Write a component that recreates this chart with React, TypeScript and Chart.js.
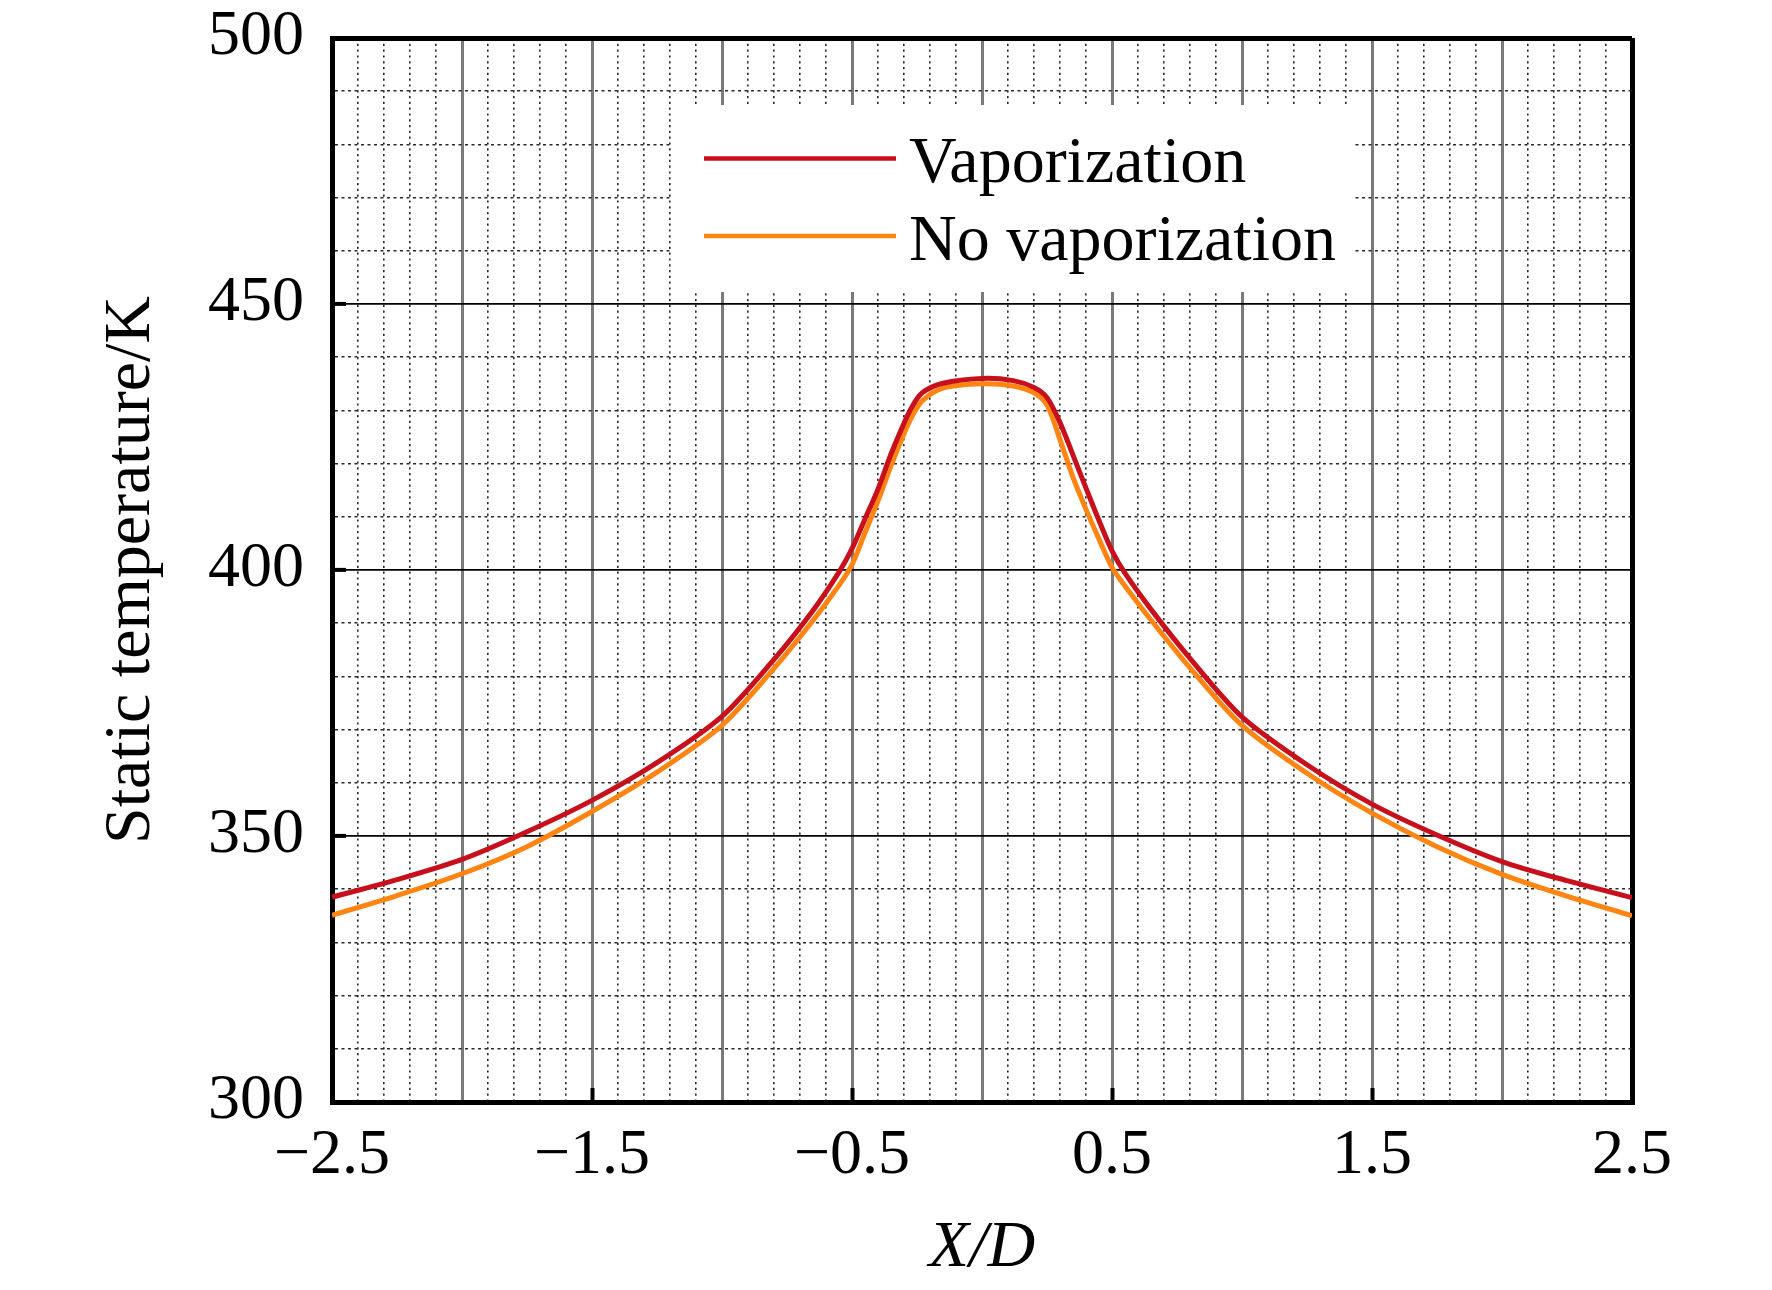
import React, { useEffect, useRef } from 'react';
import { Chart, registerables } from 'chart.js';

Chart.register(...registerables);

// ---- data ----
const xPositions = [
  -2.5, -2.25, -2.0, -1.75, -1.5, -1.25, -1.0, -0.8, -0.65, -0.55, -0.5, -0.45, -0.4, -0.35, -0.3,
  -0.27, -0.23, -0.15, 0, 0.12, 0.2, 0.25, 0.3, 0.35, 0.4, 0.45, 0.5, 0.55, 0.65, 0.8, 1.0, 1.25,
  1.5, 1.75, 2.0, 2.25, 2.5,
];
const vaporization = [
  338.5, 341.8, 345.6, 350.8, 356.7, 363.8, 372.5, 383.2, 392.4, 399.6, 404.0, 409.6, 415.2, 421.8,
  427.6, 430.6, 433.3, 435.1, 436.0, 435.6, 434.3, 432.4, 427.7, 421.6, 415.4, 409.3, 403.6, 399.4,
  392.6, 383.4, 372.4, 363.4, 356.0, 350.2, 345.2, 341.6, 338.4,
];
const noVaporization = [
  335.1, 338.8, 342.9, 348.0, 354.6, 362.0, 370.8, 381.5, 390.5, 397.1, 401.0, 407.0, 413.0, 419.6,
  425.6, 428.8, 431.8, 434.2, 435.0, 434.6, 433.3, 431.0, 424.5, 417.4, 411.4, 405.8, 400.5, 397.0,
  390.6, 381.6, 370.8, 361.8, 354.3, 348.0, 342.8, 338.7, 335.0,
];
const seriesLabels = ['Vaporization', 'No vaporization'];
const seriesColors = ['#c8101c', '#ff8412'];
const xTickLabels = [-2.5, -1.5, -0.5, 0.5, 1.5, 2.5];
const yTickLabels = [300, 350, 400, 450, 500];
const xTitle = 'X/D';
const yTitle = 'Static temperature/K';

const FONT = "'Liberation Serif', 'Times New Roman', serif";

const fmtX = (v: number) => (v < 0 ? '\u2212' + Math.abs(v).toFixed(1) : v.toFixed(1));

const boxLegend = {
  id: 'boxLegend',
  afterDatasetsDraw(chart: any, _args: any, opts: any) {
    const { ctx } = chart;
    ctx.save();
    ctx.fillStyle = '#ffffff';
    ctx.fillRect(opts.left, opts.top, opts.width, opts.height);
    chart.data.datasets.forEach((ds: any, i: number) => {
      const ly = opts.lineY + i * opts.rowGap;
      ctx.strokeStyle = ds.borderColor;
      ctx.lineWidth = 4.5;
      ctx.setLineDash([]);
      ctx.beginPath();
      ctx.moveTo(opts.lineX1, ly);
      ctx.lineTo(opts.lineX2, ly);
      ctx.stroke();
      ctx.fillStyle = '#000';
      ctx.font = `${opts.fontSize}px ${FONT}`;
      ctx.textAlign = 'left';
      ctx.textBaseline = 'alphabetic';
      ctx.fillText(ds.label, opts.textX, opts.baseY + i * opts.rowGap);
    });
    ctx.restore();
  },
};

export default function App() {
  const canvasRef = useRef<HTMLCanvasElement | null>(null);

  useEffect(() => {
    if (!canvasRef.current) return;
    const xk = (ctx: any) => (ctx && ctx.tick ? Math.round(ctx.tick.value * 10) : null);
    const yk = (ctx: any) => (ctx && ctx.tick ? Math.round(ctx.tick.value) : null);
    const xLabeled = (k: number | null) => k !== null && xTickLabels.some((t) => Math.round(t * 10) === k);
    const yLabeled = (k: number | null) => k !== null && yTickLabels.includes(k);

    const chart = new Chart(canvasRef.current, {
      type: 'line',
      data: {
        datasets: [
          {
            label: seriesLabels[0],
            data: xPositions.map((x, i) => ({ x, y: vaporization[i] })),
            borderColor: seriesColors[0],
            backgroundColor: seriesColors[0],
            borderWidth: 5,
            pointRadius: 0,
            tension: 0.3,
            order: 0,
          },
          {
            label: seriesLabels[1],
            data: xPositions.map((x, i) => ({ x, y: noVaporization[i] })),
            borderColor: seriesColors[1],
            backgroundColor: seriesColors[1],
            borderWidth: 5,
            pointRadius: 0,
            tension: 0.3,
            order: 1,
          },
        ],
      },
      options: {
        animation: false,
        responsive: false,
        devicePixelRatio: 1,
        layout: { padding: { left: 0, right: 140, top: 38, bottom: 0 } },
        plugins: {
          legend: { display: false },
          tooltip: { enabled: false },
          boxLegend: {
            left: 672,
            top: 105,
            width: 683,
            height: 187,
            lineX1: 704,
            lineX2: 896,
            lineY: 158.5,
            rowGap: 77.5,
            textX: 909,
            baseY: 182,
            fontSize: 66,
          },
        } as any,
        scales: {
          x: {
            type: 'linear',
            min: -2.5,
            max: 2.5,
            afterFit: (s: any) => {
              s.height = 188;
              s.paddingLeft = 0;
              s.paddingRight = 0;
            },
            ticks: {
              stepSize: 0.1,
              autoSkip: false,
              maxRotation: 0,
              padding: 30,
              color: '#000',
              font: { family: FONT, size: 64 },
              callback: (value: any) => {
                const k = Math.round(Number(value) * 10);
                return xLabeled(k) ? fmtX(k / 10) : '';
              },
            },
            grid: {
              drawTicks: true,
              tickLength: -14,
              tickWidth: (ctx: any) => (xLabeled(xk(ctx)) ? 4 : 0),
              tickColor: (ctx: any) => (xLabeled(xk(ctx)) ? '#000' : 'rgba(0,0,0,0)'),
              color: (ctx: any) => {
                const k = xk(ctx);
                if (k === null) return '#000';
                if (k === 25 || k === -25) return '#000';
                if (k % 5 === 0) return '#7a7a7a';
                return '#2a2a2a';
              },
              lineWidth: (ctx: any) => {
                const k = xk(ctx);
                if (k === null) return 1;
                if (k === 25 || k === -25) return 5;
                if (k % 5 === 0) return 3;
                return 1.6;
              },
            },
            border: {
              display: true,
              color: '#000',
              width: 5,
              dash: (ctx: any) => {
                const k = xk(ctx);
                if (k === null || k % 5 === 0) return [];
                return [2.2, 3.6];
              },
            } as any,
            title: {
              display: true,
              text: xTitle,
              color: '#000',
              font: { family: FONT, size: 66, style: 'italic' },
              padding: { top: 0, bottom: 2 },
            },
          },
          y: {
            type: 'linear',
            min: 300,
            max: 500,
            afterFit: (s: any) => {
              s.width = 332;
              s.paddingTop = 0;
              s.paddingBottom = 0;
            },
            ticks: {
              stepSize: 10,
              autoSkip: false,
              padding: 42,
              labelOffset: -1,
              color: '#000',
              font: { family: FONT, size: 64 },
              callback: (value: any) => {
                const k = Math.round(Number(value));
                return yLabeled(k) ? String(k) : '';
              },
            },
            grid: {
              drawTicks: true,
              tickLength: -14,
              tickWidth: (ctx: any) => (yLabeled(yk(ctx)) ? 4 : 0),
              tickColor: (ctx: any) => (yLabeled(yk(ctx)) ? '#000' : 'rgba(0,0,0,0)'),
              color: (ctx: any) => {
                const k = yk(ctx);
                if (k === null) return '#000';
                if (k % 50 === 0) return '#000';
                return '#2a2a2a';
              },
              lineWidth: (ctx: any) => {
                const k = yk(ctx);
                if (k === null) return 1;
                if (k === 300 || k === 500) return 5;
                if (k % 50 === 0) return 1.8;
                return 1.5;
              },
            },
            border: {
              display: true,
              color: '#000',
              width: 5,
              dash: (ctx: any) => {
                const k = yk(ctx);
                if (k === null || k % 50 === 0) return [];
                return [3, 3.5];
              },
            } as any,
            title: {
              display: true,
              text: yTitle,
              color: '#000',
              font: { family: FONT, size: 66 },
              padding: { top: 92, bottom: 0 },
            },
          },
        },
      },
      plugins: [boxLegend as any],
    });
    return () => chart.destroy();
  }, []);

  return (
    <div style={{ position: 'absolute', left: 0, top: 0, width: 1772, height: 1290, background: '#fff' }}>
      <canvas ref={canvasRef} width={1772} height={1290} style={{ display: 'block', width: 1772, height: 1290 }} />
    </div>
  );
}
